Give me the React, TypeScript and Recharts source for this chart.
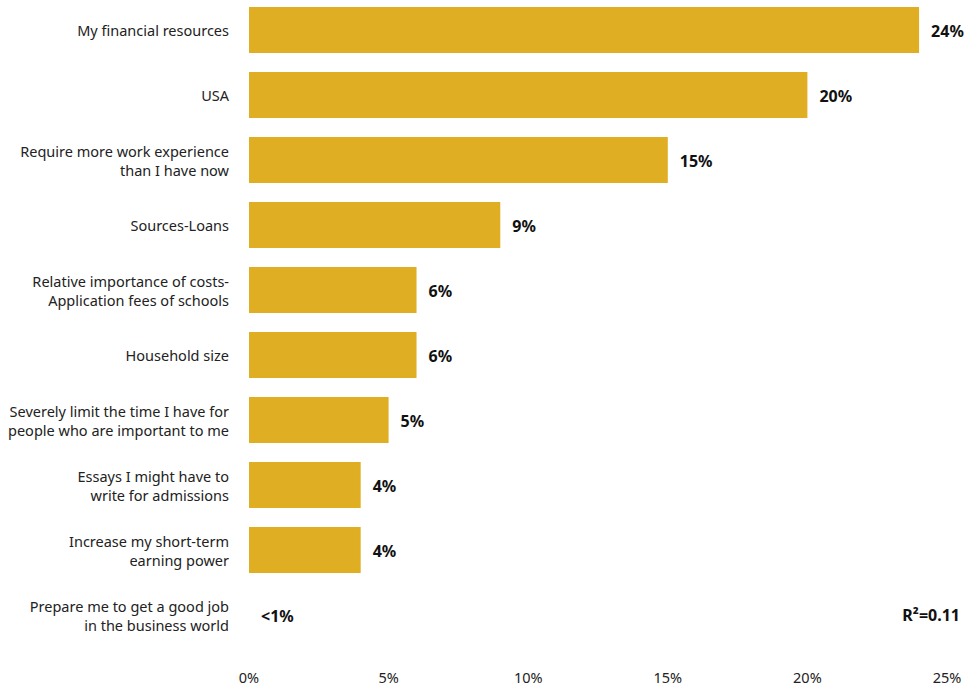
import { BarChart, Bar, XAxis, YAxis, LabelList, Cell } from 'recharts';

// Category labels (lines split where the reference wraps them)
const categories = [
    ['My financial resources'],
    ['USA'],
    ['Require more work experience', 'than I have now'],
    ['Sources-Loans'],
    ['Relative importance of costs-', 'Application fees of schools'],
    ['Household size'],
    ['Severely limit the time I have for', 'people who are important to me'],
    ['Essays I might have to', 'write for admissions'],
    ['Increase my short-term', 'earning power'],
    ['Prepare me to get a good job', 'in the business world'],
];

const values = [24, 20, 15, 9, 6, 6, 5, 4, 4, 0];
const valueLabels = ['24%', '20%', '15%', '9%', '6%', '6%', '5%', '4%', '4%', '<1%'];
const xTicks = [0, 5, 10, 15, 20, 25];

const BAR_COLOR = '#E0AE22';
const FONT = '"Noto Sans", sans-serif';

const data = categories.map((lines, i) => ({
    name: lines.join(' '),
    lines,
    value: values[i],
    label: valueLabels[i],
}));

// Right-aligned, possibly two-line category label
function CategoryTick(props: any) {
    const { x, y, payload } = props;
    const lines: string[] = data[payload.index]?.lines ?? [String(payload.value)];
    const lineH = 19;
    const startY = y + (lines.length > 1 ? 2 : 1) - ((lines.length - 1) * lineH) / 2;
    return (
        <text x={x} y={startY} textAnchor="end" fontFamily={FONT} fontSize={14.5} fill="#222">
            {lines.map((l, i) => (
                <tspan key={i} x={x} y={startY + i * lineH} dy="0.35em">
                    {l}
                </tspan>
            ))}
        </text>
    );
}

function ValueLabel(props: any) {
    const { x, y, width, height, index } = props;
    // zero bars get minPointSize, so start the label from the axis
    const end = values[index] === 0 ? x : x + width;
    return (
        <text
            x={end + 12}
            y={y + height / 2 + 1}
            dy="0.35em"
            fontFamily={FONT}
            fontWeight="bold"
            fontSize={16}
            fill="#111"
        >
            {valueLabels[index]}
        </text>
    );
}

export default function App() {
    return (
        <div style={{ position: 'absolute', left: 0, top: -3, width: 977, height: 690, background: '#fff' }}>
            <BarChart
                width={977}
                height={690}
                data={data}
                layout="vertical"
                margin={{ top: 0, right: 30, left: 0, bottom: 0 }}
            >
                <XAxis
                    type="number"
                    domain={[0, 25]}
                    ticks={xTicks}
                    tickFormatter={(v: number) => `${v}%`}
                    axisLine={false}
                    tickLine={false}
                    tickSize={0}
                    tickMargin={26}
                    height={40}
                    tick={{ fontSize: 14.5, fill: '#222', fontFamily: FONT }}
                    interval={0}
                />
                <YAxis
                    type="category"
                    dataKey="name"
                    width={249}
                    axisLine={false}
                    tickLine={false}
                    tickSize={0}
                    tickMargin={20}
                    tick={<CategoryTick />}
                    interval={0}
                />
                <Bar dataKey="value" fill={BAR_COLOR} barSize={46} minPointSize={1} isAnimationActive={false}>
                    {data.map((d, i) => (
                        <Cell key={`cell-${i}`} fill={d.value === 0 ? 'transparent' : BAR_COLOR} />
                    ))}
                    <LabelList dataKey="label" content={<ValueLabel />} />
                </Bar>
            </BarChart>
            <div
                style={{
                    position: 'absolute',
                    right: 17,
                    top: 608,
                    fontFamily: FONT,
                    fontWeight: 'bold',
                    fontSize: 16,
                    color: '#111',
                    lineHeight: '20px',
                }}
            >
                R²=0.11
            </div>
        </div>
    );
}
